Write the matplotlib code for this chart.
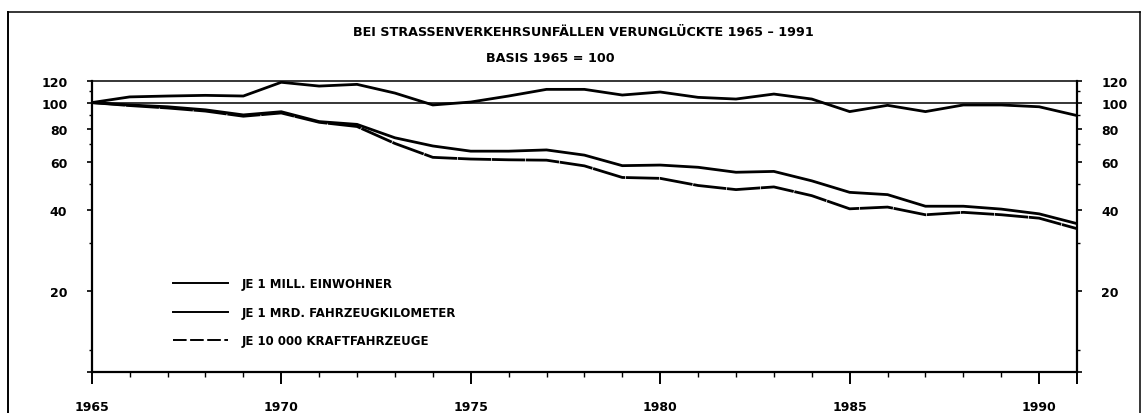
import matplotlib
matplotlib.use("Agg")
import matplotlib.pyplot as plt
from matplotlib.lines import Line2D

# data (index, 1965 = 100)
years = list(range(1965, 1992))
einwohner = [100, 105, 105.8, 106.4, 105.8, 119, 115.2, 116.9, 108.5, 98,
             100.5, 105.8, 112, 112, 106.7, 109.5, 104.6, 103.1, 107.6, 103.1,
             92.6, 97.7, 92.6, 98, 98, 96.5, 89.5]
fzkm = [100, 98, 96.5, 94, 90, 92.5, 85, 83, 74, 69,
        66, 66, 66.7, 63.8, 58.3, 58.6, 57.5, 55.1, 55.5, 51.2,
        46.4, 45.5, 41.2, 41.2, 40.2, 38.6, 35.5]
kfz = [100, 97.5, 95.5, 93, 89, 91.5, 84.5, 81.5, 70.5, 62.6,
       61.7, 61.3, 61.1, 58.2, 52.7, 52.3, 49.2, 47.5, 48.6, 45.1,
       40.3, 40.9, 38.3, 39.1, 38.3, 37.2, 34]

labels = ["JE 1 MILL. EINWOHNER", "JE 1 MRD. FAHRZEUGKILOMETER", "JE 10 000 KRAFTFAHRZEUGE"]
ytick_vals = [10, 20, 40, 60, 80, 100, 120]
ytick_labels = ["", "20", "40", "60", "80", "100", "120"]
yminor_vals = [12, 30, 50, 70, 90, 110]
xtick_vals = [1965, 1970, 1975, 1980, 1985, 1990, 1991]
xtick_labels = ["1965", "1970", "1975", "1980", "1985", "1990", ""]

plt.rcParams["font.family"] = "DejaVu Sans"
plt.rcParams["font.weight"] = "bold"

fig = plt.figure(figsize=(11.47, 4.14), dpi=100)
ax = fig.add_axes([0.080, 0.0998, 0.859, 0.7014])

ax.plot(years, einwohner, color="black", lw=2.0, label=labels[0])
ax.plot(years, fzkm, color="black", lw=2.0, label=labels[1])
l3, = ax.plot(years, kfz, color="black", lw=2.0, label=labels[2])
l3.set_dashes((12, 0.25))

ax.axhline(100, color="black", lw=1.1)

ax.set_yscale("log")
ax.set_ylim(10, 120)
ax.set_xlim(1965, 1991)

ax.set_yticks(ytick_vals)
ax.set_yticklabels(ytick_labels)
ax.set_yticks(yminor_vals, minor=True)
ax.set_yticklabels([""] * len(yminor_vals), minor=True)
ax.set_xticks(xtick_vals)
ax.set_xticklabels(xtick_labels)
ax.set_xticks(years, minor=True)

ax.tick_params(axis="y", which="major", direction="out", length=3.6, width=1.2,
               left=True, right=True, labelleft=True, labelright=True,
               pad=14, labelsize=9)
ax.tick_params(axis="y", which="minor", direction="out", length=2.4, width=1.0,
               left=True, right=True)
ax.tick_params(axis="x", which="major", direction="out", length=8.6, width=1.4,
               pad=12, labelsize=9)
ax.tick_params(axis="x", which="minor", direction="out", length=3.6, width=1.0)

for side in ["left", "right", "bottom"]:
    ax.spines[side].set_linewidth(1.6)
ax.spines["top"].set_linewidth(1.1)

leg = ax.legend(loc="upper left", bbox_to_anchor=(0.082, 0.325), frameon=False,
                fontsize=8.5, handlelength=4.66, handletextpad=1.2,
                labelspacing=1.3, borderpad=0, borderaxespad=0)
leg_lines = leg.get_lines()
for h in leg_lines:
    h.set_linewidth(1.4)
leg_lines[2].set_dashes((7, 1.8))

fig.text(0.509, 1 - 33 / 414, "BEI STRASSENVERKEHRSUNFÄLLEN VERUNGLÜCKTE 1965 \u2013 1991",
         ha="center", va="center", fontsize=9.2, fontweight="bold")
fig.text(0.48, 1 - 58.5 / 414, "BASIS 1965 = 100",
         ha="center", va="center", fontsize=9.2, fontweight="bold")

# outer frame of the scanned page
fig.add_artist(Line2D([0.0072, 0.0072], [0, 1 - 12.7 / 414], transform=fig.transFigure,
                      color="black", lw=1.4))
fig.add_artist(Line2D([0.0072, 0.994], [1 - 12.7 / 414, 1 - 12.7 / 414],
                      transform=fig.transFigure, color="black", lw=1.1))
fig.add_artist(Line2D([0.994, 0.994], [0, 1 - 12.7 / 414], transform=fig.transFigure,
                      color="black", lw=1.1))

fig.savefig("out.png", dpi=100)
